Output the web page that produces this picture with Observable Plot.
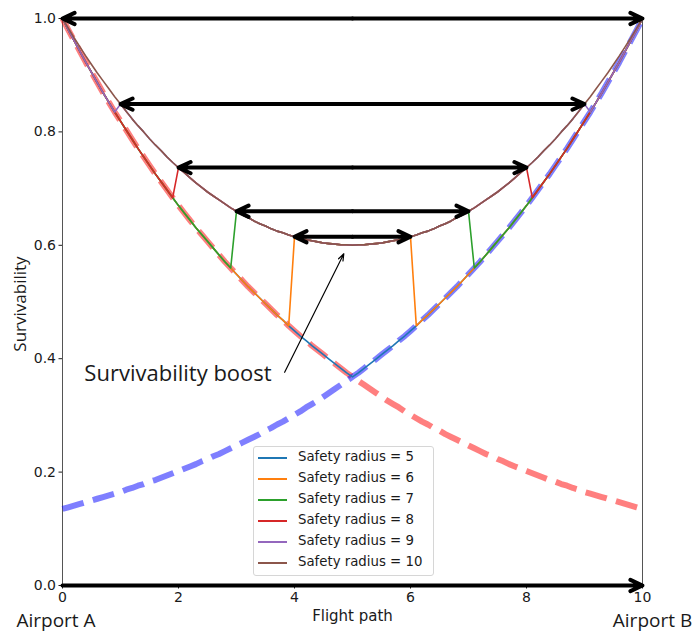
<!DOCTYPE html>
<html>
<head>
<meta charset="utf-8">
<script src="https://cdn.jsdelivr.net/npm/d3@7"></script>
<script src="https://cdn.jsdelivr.net/npm/@observablehq/plot@0.6"></script>
<style>
  body { margin: 0; background: #fff; }
  #chart { position: relative; width: 695px; height: 633px; }
  .legend {
    position: absolute; left: 253px; top: 446px; width: 181px; height: 130px;
    box-sizing: border-box; border: 1px solid #d6d6d6; border-radius: 3px;
    background: rgba(255, 255, 255, 0.8);
    font: 13.3px "DejaVu Sans", sans-serif; color: #1a1a1a;
  }
  .legend .row { position: relative; height: 21px; white-space: nowrap; }
  .legend .swatch { position: absolute; left: 4px; top: 10px; width: 29px; height: 2px; }
  .legend .label { position: absolute; left: 44px; top: 2px; }
</style>
</head>
<body>
<div id="chart"></div>
<script>
// Sample positions along the route, in steps of 0.1
const flightPath = d3.range(101).map(i => i / 10);

// Survivability when only Airport A (at 0) can be reached
const survivalA = [
  1.000, 0.980, 0.961, 0.942, 0.923, 0.905, 0.887, 0.869, 0.852, 0.835,
  0.819, 0.803, 0.787, 0.771, 0.756, 0.741, 0.726, 0.712, 0.698, 0.684,
  0.670, 0.657, 0.644, 0.631, 0.619, 0.607, 0.595, 0.583, 0.571, 0.560,
  0.549, 0.538, 0.527, 0.517, 0.507, 0.497, 0.487, 0.477, 0.468, 0.458,
  0.449, 0.440, 0.432, 0.423, 0.415, 0.407, 0.399, 0.391, 0.383, 0.375,
  0.368, 0.361, 0.354, 0.347, 0.340, 0.333, 0.326, 0.320, 0.314, 0.307,
  0.301, 0.295, 0.289, 0.284, 0.278, 0.273, 0.267, 0.262, 0.257, 0.252,
  0.247, 0.242, 0.237, 0.232, 0.228, 0.223, 0.219, 0.214, 0.210, 0.206,
  0.202, 0.198, 0.194, 0.190, 0.186, 0.183, 0.179, 0.176, 0.172, 0.169,
  0.165, 0.162, 0.159, 0.156, 0.153, 0.150, 0.147, 0.144, 0.141, 0.138,
  0.135
];

// Survivability when only Airport B (at 10) can be reached
const survivalB = [
  0.135, 0.138, 0.141, 0.144, 0.147, 0.150, 0.153, 0.156, 0.159, 0.162,
  0.165, 0.169, 0.172, 0.176, 0.179, 0.183, 0.186, 0.190, 0.194, 0.198,
  0.202, 0.206, 0.210, 0.214, 0.219, 0.223, 0.228, 0.232, 0.237, 0.242,
  0.247, 0.252, 0.257, 0.262, 0.267, 0.273, 0.278, 0.284, 0.289, 0.295,
  0.301, 0.307, 0.314, 0.320, 0.326, 0.333, 0.340, 0.347, 0.354, 0.361,
  0.368, 0.375, 0.383, 0.391, 0.399, 0.407, 0.415, 0.423, 0.432, 0.440,
  0.449, 0.458, 0.468, 0.477, 0.487, 0.497, 0.507, 0.517, 0.527, 0.538,
  0.549, 0.560, 0.571, 0.583, 0.595, 0.607, 0.619, 0.631, 0.644, 0.657,
  0.670, 0.684, 0.698, 0.712, 0.726, 0.741, 0.756, 0.771, 0.787, 0.803,
  0.819, 0.835, 0.852, 0.869, 0.887, 0.905, 0.923, 0.942, 0.961, 0.980,
  1.000
];

// Survivability when both airports are within reach
const survivalBoth = [
  1.000, 0.983, 0.966, 0.950, 0.934, 0.919, 0.904, 0.890, 0.876, 0.862,
  0.849, 0.836, 0.823, 0.811, 0.800, 0.788, 0.777, 0.767, 0.756, 0.746,
  0.737, 0.728, 0.719, 0.710, 0.702, 0.694, 0.687, 0.680, 0.673, 0.666,
  0.660, 0.654, 0.649, 0.643, 0.638, 0.634, 0.629, 0.625, 0.622, 0.618,
  0.615, 0.612, 0.610, 0.608, 0.606, 0.604, 0.603, 0.602, 0.601, 0.601,
  0.600, 0.601, 0.601, 0.602, 0.603, 0.604, 0.606, 0.608, 0.610, 0.612,
  0.615, 0.618, 0.622, 0.625, 0.629, 0.634, 0.638, 0.643, 0.649, 0.654,
  0.660, 0.666, 0.673, 0.680, 0.687, 0.694, 0.702, 0.710, 0.719, 0.728,
  0.737, 0.746, 0.756, 0.767, 0.777, 0.788, 0.800, 0.811, 0.823, 0.836,
  0.849, 0.862, 0.876, 0.890, 0.904, 0.919, 0.934, 0.950, 0.966, 0.983,
  1.000
];

const radii = [5, 6, 7, 8, 9, 10];
const radiusColors = ["#1f77b4", "#ff7f0e", "#2ca02c", "#d62728", "#9467bd", "#8c564b"];

// Left ends of the double arrows spanning the stretch covered by both airports
const spanStarts = [0, 1, 2, 3, 4];

const xTicks = [0, 2, 4, 6, 8, 10];
const yTicks = [0.0, 0.2, 0.4, 0.6, 0.8, 1.0];

const boostNote = {label: "Survivability boost", x1: 3.83, y1: 0.376, x2: 4.85, y2: 0.585};
const airportA = {name: "Airport A", x: 0};
const airportB = {name: "Airport B", x: 10};

// ---- derived tables ----
const rowsOf = values => flightPath.map((x, i) => ({x, y: values[i]}));

// Route survivability for one safety radius: A only, then both (where the zones overlap), then B only
function radiusRows(r) {
  const lo = (10 - r) * 10, hi = r * 10;
  return flightPath.map((x, k) => {
    const both = r > 5 && k >= lo && k <= hi;
    const y = both ? survivalBoth[k] : (x <= 5 ? survivalA[k] : survivalB[k]);
    return {x, y};
  });
}

// Each double arrow is drawn as two halves leaving from the route midpoint
const spanHalves = spanStarts.flatMap(s => {
  const y = survivalBoth[s * 10];
  return [{x1: 5, x2: s, y}, {x1: 5, x2: 10 - s, y}];
});
const baseArrow = [{x1: 0, x2: 10, y: 0}];

const ink = "#1a1a1a";

const chart = Plot.plot({
  width: 695,
  height: 633,
  marginLeft: 62,
  marginRight: 53,
  marginTop: 18,
  marginBottom: 48,
  style: {fontFamily: "DejaVu Sans, sans-serif", fontSize: "14px", color: ink, background: "white", overflow: "visible"},
  x: {domain: [0, 10], ticks: xTicks, tickSize: 3.5, tickPadding: 3, label: null},
  y: {domain: [0, 1], ticks: yTicks, tickFormat: d => d.toFixed(1), tickSize: 3.5, tickPadding: 3, label: null},
  marks: [
    Plot.frame({stroke: "#555", strokeWidth: 1}),
    Plot.line(rowsOf(survivalA), {x: "x", y: "y", stroke: "red", strokeOpacity: 0.5, strokeWidth: 6,
      strokeDasharray: "22,9.6", strokeLinecap: "butt", strokeLinejoin: "round"}),
    Plot.line(rowsOf(survivalB), {x: "x", y: "y", stroke: "blue", strokeOpacity: 0.5, strokeWidth: 6,
      strokeDasharray: "22,9.6", strokeLinecap: "butt", strokeLinejoin: "round"}),
    ...radii.map((r, i) => Plot.line(radiusRows(r), {x: "x", y: "y", stroke: radiusColors[i], strokeWidth: 1.6})),
    Plot.arrow(spanHalves, {x1: "x1", x2: "x2", y1: "y", y2: "y", stroke: "black", strokeWidth: 4, headLength: 5, headAngle: 50}),
    Plot.arrow(baseArrow, {x1: "x1", x2: "x2", y1: "y", y2: "y", stroke: "black", strokeWidth: 4, headLength: 5, headAngle: 50}),
    Plot.arrow([boostNote], {x1: "x1", y1: "y1", x2: "x2", y2: "y2", stroke: "black", strokeWidth: 1.2, headLength: 9, headAngle: 40}),
    Plot.text([boostNote], {x: "x1", y: "y1", text: "label", textAnchor: "end", lineAnchor: "bottom",
      dx: -13, dy: 9, fontSize: 22, fontFamily: "Open Sans", fill: ink}),
    Plot.text(["Flight path"], {text: d => d, frameAnchor: "bottom", lineAnchor: "bottom", dy: 35, fontSize: 15, fill: ink}),
    Plot.text(["Survivability"], {text: d => d, frameAnchor: "left", textAnchor: "middle", rotate: -90, dx: -42, dy: 2,
      fontSize: 17, fontFamily: "Open Sans", fill: ink}),
    Plot.text([airportA], {x: "x", y: () => 0, text: "name", lineAnchor: "bottom", dx: -6.5, dy: 41, fontSize: 19, fontFamily: "Open Sans", fill: ink}),
    Plot.text([airportB], {x: "x", y: () => 0, text: "name", lineAnchor: "bottom", dx: 10, dy: 41, fontSize: 19, fontFamily: "Open Sans", fill: ink})
  ]
});

const root = document.getElementById("chart");
root.appendChild(chart);

// Legend of safety radii, placed over the lower middle of the plot
const legend = document.createElement("div");
legend.className = "legend";
radii.forEach((r, i) => {
  const row = document.createElement("div");
  row.className = "row";
  const swatch = document.createElement("span");
  swatch.className = "swatch";
  swatch.style.background = radiusColors[i];
  const label = document.createElement("span");
  label.className = "label";
  label.textContent = `Safety radius = ${r}`;
  row.append(swatch, label);
  legend.appendChild(row);
});
root.appendChild(legend);
</script>
</body>
</html>
